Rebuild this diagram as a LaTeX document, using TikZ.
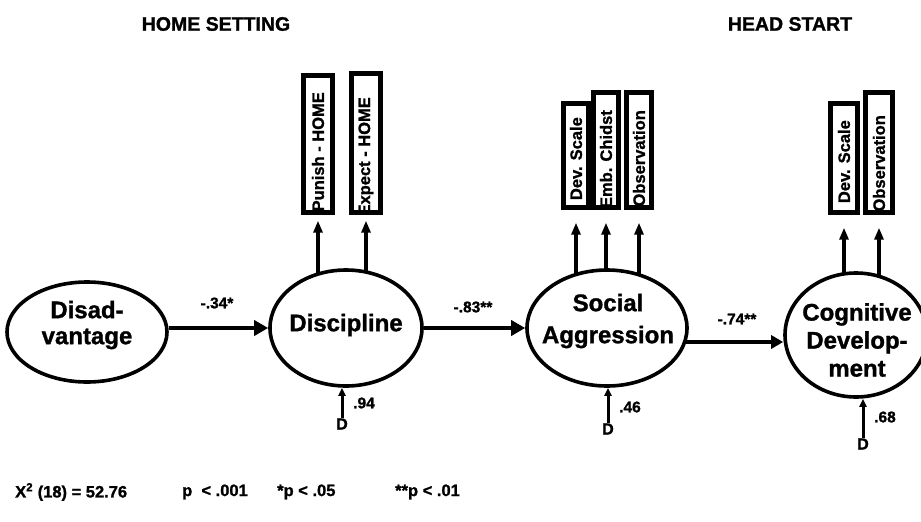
\documentclass[tikz,border=0pt]{standalone}
\usepackage{fontspec}
\setmainfont{Liberation Sans}[BoldFeatures={FakeBold=1.2}]
\usetikzlibrary{arrows.meta,shapes.geometric,backgrounds,calc}

\begin{document}
\begin{tikzpicture}[x=1pt,y=-1pt,
  hdr/.style={font=\fontsize{19.5}{22}\selectfont\bfseries},
  latent/.style={ellipse, draw, line width=3.6pt, fill=white, inner sep=0pt},
  lattext/.style={align=center, inner sep=0pt, font=\fontsize{24}{#1}\selectfont\bfseries},
  indbox/.style={draw, line width=3.4pt, inner sep=0pt, fill=white},
  indtext/.style={rotate=90, anchor=east, inner sep=0pt, font=\fontsize{16.5}{20}\selectfont\bfseries},
  path/.style={line width=3.4pt, -{Triangle[length=14pt,width=15pt]}},
  load/.style={line width=3.2pt, -{Triangle[length=12pt,width=9pt]}},
  dist/.style={line width=3pt, -{Triangle[length=8pt,width=7pt]}},
  dlabel/.style={inner sep=0pt, font=\fontsize{16}{18}\selectfont\bfseries},
  coef/.style={inner sep=0pt, font=\fontsize{15.5}{18}\selectfont\bfseries},
  note/.style={anchor=west, inner sep=0pt, font=\fontsize{16.5}{19}\selectfont\bfseries}
]
\useasboundingbox (0,0) rectangle (921,522);
\clip (0,0) rectangle (921,522);

% section headings
\node[hdr] (home) at (216,24) {HOME SETTING};
\node[hdr] (head) at (790,24) {HEAD START};

% latent constructs
\node[latent, minimum width=160pt, minimum height=100pt] (dis)  at (87,332)  {};
\node[latent, minimum width=152pt, minimum height=116pt] (disc) at (346,328) {};
\node[latent, minimum width=160pt, minimum height=116pt] (soc)  at (607,328) {};
\node[latent, minimum width=142pt, minimum height=124pt] (cog)  at (856,335) {};

\node[lattext=26pt] (distxt)  at (87,325)  {Disad-\\vantage};
\node[lattext=28pt] (disctxt) at (346,325) {Discipline};
\node[lattext=32pt] (soctxt)  at (608,321) {Social\\Aggression};
\node[lattext=28pt] (cogtxt)  at (857,340) {Cognitive\\Develop-\\ment};

% indicator boxes
\node[indbox, minimum width=28pt, minimum height=136pt] (p1) at (318,144)   {};
\node[indbox, minimum width=27pt, minimum height=138pt] (p2) at (366,143)   {};
\node[indbox, minimum width=24pt, minimum height=103pt] (s1) at (576,155.5) {};
\node[indbox, minimum width=24pt, minimum height=114pt] (s2) at (606,150)   {};
\node[indbox, minimum width=23pt, minimum height=114pt] (s3) at (639,150)   {};
\node[indbox, minimum width=25pt, minimum height=108pt] (c1) at (844,158)   {};
\node[indbox, minimum width=25pt, minimum height=119pt] (c2) at (879,152.5) {};

% indicator labels, cut off at the box edges
\foreach \b/\top/\txt in {p1/92/Punish - HOME, p2/97/Expect - HOME,
    s1/117/Dev. Scale, s2/110/Emb. Chidst, s3/110/Observation,
    c1/120/Dev. Scale, c2/115/Observation}{
  \begin{scope}
    \clip (\b.south west) rectangle (\b.north east);
    \node[indtext] (\b txt) at (\b.center |- 0,\top) {\txt};
  \end{scope}
  \draw[line width=3.4pt] (\b.south west) rectangle (\b.north east);
}

% loadings and structural paths behind the ellipses
\begin{scope}[on background layer]
  \draw[load, shorten >=7pt]  (p1.south |- disc.center) -- (p1.south);
  \draw[load, shorten >=7pt]  (p2.south |- disc.center) -- (p2.south);
  \draw[load, shorten >=14pt] (s1.south |- soc.center)  -- (s1.south);
  \draw[load, shorten >=14pt] (s2.south |- soc.center)  -- (s2.south);
  \draw[load, shorten >=14pt] (s3.south |- soc.center)  -- (s3.south);
  \draw[load, shorten >=14pt] (c1.south |- cog.center)  -- (c1.south);
  \draw[load, shorten >=14pt] (c2.south |- cog.center)  -- (c2.south);
  \coordinate (socout) at ($(soc.center)+(0,14)$);
  \draw[path, -{Triangle[length=12pt,width=13pt]}] (socout) -- (socout -| cog.west);
\end{scope}

\draw[path] (dis.east |- disc.west) -- (disc.west);
\draw[path] (disc.east) -- (soc.west);

% path coefficients
\node[coef] (c34) at (217,303) {-.34*};
\node[coef] (c83) at (473,307) {-.83**};
\node[coef] (c74) at (737,319) {-.74**};

% disturbances
\node[dlabel] (d1) at (342,424) {D};
\node[dlabel] (d2) at (608,429) {D};
\node[dlabel] (d3) at (863,444) {D};
\draw[dist] (d1.north) -- (d1.north |- disc.south);
\draw[dist] (d2.north) -- (d2.north |- soc.south);
\draw[dist] (d3.north) -- (d3.north |- cog.south);
\node[coef] (e1) at (364,403) {.94};
\node[coef] (e2) at (630,407) {.46};
\node[coef] (e3) at (885,417) {.68};

% fit statistics
\node[note] (chi) at (15,492)  {X\textsuperscript{2} (18) = 52.76};
\node[note] (pv)  at (182,492) {p\ \ < .001};
\node[note] (p05) at (277,492) {*p < .05};
\node[note] (p01) at (395,492) {**p < .01};
\end{tikzpicture}
\end{document}
